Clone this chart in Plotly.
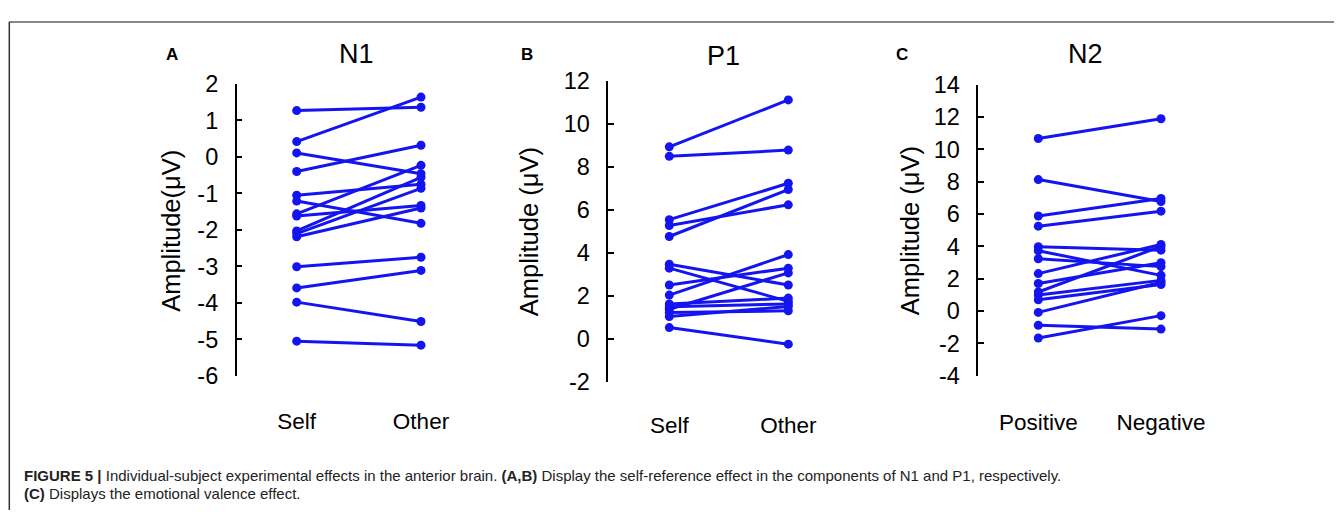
import plotly.graph_objects as go

# Page has an 8px body margin: the figure is sized to fit the 1342x531 window.
OFF = 8
W, H = 1342 - 2 * OFF, 531 - 2 * OFF


def px(x):
    return (x - OFF) / W


def py(y):
    return 1 - (y - OFF) / H


# ---- data ----
n1_cats = ["Self", "Other"]
n1_self = [1.27, 0.42, 0.11, -0.40, -1.05, -1.21, -1.56, -1.62, -2.03, -2.10, -2.19, -3.01, -3.59, -3.98, -5.05]
n1_other = [1.36, 1.64, -0.46, 0.32, -0.75, -1.82, -0.23, -1.33, -0.56, -0.86, -1.40, -2.75, -3.11, -4.51, -5.16]
n1_ticks = [2, 1, 0, -1, -2, -3, -4, -5, -6]

p1_cats = ["Self", "Other"]
p1_self = [8.92, 8.48, 5.54, 5.27, 4.76, 3.47, 3.29, 2.51, 2.04, 1.63, 1.50, 1.38, 1.23, 1.04, 0.53]
p1_other = [11.10, 8.77, 7.23, 6.23, 6.94, 2.51, 1.75, 3.29, 3.92, 1.90, 1.63, 3.07, 1.31, 1.51, -0.24]
p1_ticks = [12, 10, 8, 6, 4, 2, 0, -2]

n2_cats = ["Positive", "Negative"]
n2_pos = [10.67, 8.13, 5.88, 5.25, 3.98, 3.73, 3.24, 2.32, 1.71, 1.18, 0.99, 0.70, -0.08, -0.87, -1.66]
n2_neg = [11.89, 6.77, 6.96, 6.18, 3.77, 2.21, 2.75, 4.12, 2.99, 4.00, 1.90, 1.64, 1.78, -1.11, -0.28]
n2_ticks = [14, 12, 10, 8, 6, 4, 2, 0, -2, -4]

panels = [
    dict(cats=n1_cats, a=n1_self, b=n1_other, ticks=n1_ticks, yr=[-6, 2], title="N1", letter="A",
         ytitle="Amplitude(μV)", axis_px=236.7, c0=296.7, c1=421.0, right_px=470, top=74.3, bot=381.7,
         title_x=356.7, title_y=43, letter_x=171.7, ytitle_x=171, standoff=30),
    dict(cats=p1_cats, a=p1_self, b=p1_other, ticks=p1_ticks, yr=[-2, 12], title="P1", letter="B",
         ytitle="Amplitude (μV)", axis_px=608.3, c0=669.3, c1=788.3, right_px=840, top=70.7, bot=388.3,
         title_x=723, title_y=45, letter_x=526.7, ytitle_x=529, standoff=27),
    dict(cats=n2_cats, a=n2_pos, b=n2_neg, ticks=n2_ticks, yr=[-4, 14], title="N2", letter="C",
         ytitle="Amplitude (μV)", axis_px=978.3, c0=1038.3, c1=1161.0, right_px=1215, top=75.0, bot=381.7,
         title_x=1085, title_y=43, letter_x=901.7, ytitle_x=910, standoff=31),
]

FONT = "Arial, 'Liberation Sans', sans-serif"
BLUE = "#1414F0"

fig = go.Figure()
annotations = []
layout_axes = {}

for i, p in enumerate(panels, start=1):
    xa = "x" if i == 1 else f"x{i}"
    ya = "y" if i == 1 else f"y{i}"
    for va, vb in zip(p["a"], p["b"]):
        fig.add_trace(go.Scatter(
            x=[0, 1], y=[va, vb], mode="lines+markers",
            line=dict(color=BLUE, width=3), marker=dict(color=BLUE, size=9),
            xaxis=xa, yaxis=ya, showlegend=False, hoverinfo="y"))
    scale = p["c1"] - p["c0"]
    xr = [-(p["c0"] - p["axis_px"]) / scale, (p["right_px"] - p["c0"]) / scale]
    layout_axes[f"xaxis{'' if i == 1 else i}"] = dict(
        domain=[px(p["axis_px"]), px(p["right_px"])], range=xr,
        tickvals=[0, 1], ticktext=p["cats"], showline=False, showgrid=False, zeroline=False,
        ticks="", ticklabelstandoff=p["standoff"], tickfont=dict(family=FONT, size=22.5, color="black"),
        anchor=ya, fixedrange=True)
    layout_axes[f"yaxis{'' if i == 1 else i}"] = dict(
        domain=[py(p["bot"]), py(p["top"])], range=p["yr"],
        tickvals=p["ticks"], ticktext=[str(t) for t in p["ticks"]],
        showline=True, linecolor="black", linewidth=1.5, showgrid=False, zeroline=False,
        ticks="inside", ticklen=6, tickcolor="black", tickwidth=1.5,
        ticklabelstandoff=12, tickfont=dict(family=FONT, size=23.5, color="black"),
        anchor=xa, fixedrange=True)
    annotations.append(dict(text=p["title"], x=px(p["title_x"]), y=py(p["title_y"]),
                            xref="paper", yref="paper", showarrow=False, xanchor="center", yanchor="middle",
                            font=dict(family=FONT, size=27, color="black")))
    annotations.append(dict(text=f"<b>{p['letter']}</b>", x=px(p["letter_x"]), y=py(43),
                            xref="paper", yref="paper", showarrow=False, xanchor="center", yanchor="middle",
                            font=dict(family=FONT, size=17, color="black")))
    annotations.append(dict(text=p["ytitle"], x=px(p["ytitle_x"]), y=py((p["top"] + p["bot"]) / 2 + 1),
                            xref="paper", yref="paper", showarrow=False, xanchor="center", yanchor="middle",
                            textangle=-90, font=dict(family=FONT, size=25.5, color="black")))

caption1 = ("<b>FIGURE 5 |</b> Individual-subject experimental effects in the anterior brain. "
            "<b>(A,B)</b> Display the self-reference effect in the components of N1 and P1, respectively.")
caption2 = "<b>(C)</b> Displays the emotional valence effect."
for txt, ypx in [(caption1, 487), (caption2, 506)]:
    annotations.append(dict(text=txt, x=px(22), y=py(ypx), xref="paper", yref="paper",
                            showarrow=False, xanchor="left", yanchor="middle",
                            font=dict(family=FONT, size=15, color="#222222")))

shapes = [
    dict(type="line", xref="paper", yref="paper", x0=px(9), x1=1, y0=py(9), y1=py(9),
         line=dict(color="#888888", width=2)),
    dict(type="line", xref="paper", yref="paper", x0=px(9.3), x1=px(9.3), y0=py(9), y1=0,
         line=dict(color="#333333", width=1.5)),
]

fig.update_layout(
    width=W, height=H, margin=dict(l=0, r=0, t=0, b=0),
    paper_bgcolor="white", plot_bgcolor="white",
    annotations=annotations, shapes=shapes, showlegend=False,
    **layout_axes)

fig.write_html("out.html", config={"displayModeBar": False})
